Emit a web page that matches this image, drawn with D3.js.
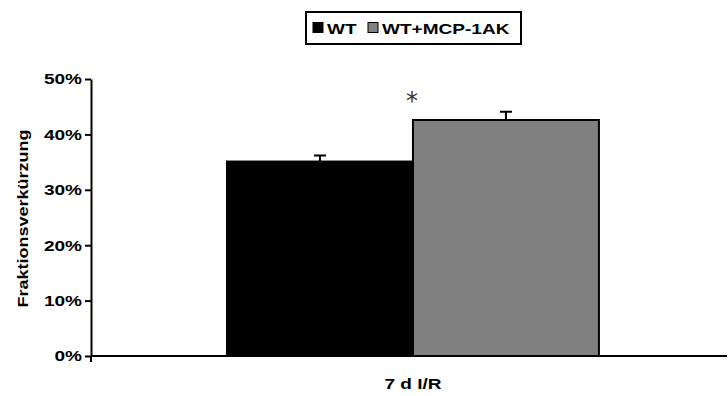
<!DOCTYPE html>
<html>
<head>
<meta charset="utf-8">
<script src="https://cdn.jsdelivr.net/npm/d3@7/dist/d3.min.js"></script>
<style>
  body { margin: 0; background: #fff; }
  text { font-family: "Liberation Sans", Arial, sans-serif; font-weight: bold; }
</style>
</head>
<body>
<div class="chart"></div>
<script>
const groups = ['7 d I/R'];
const seriesNames = ['WT', 'WT+MCP-1AK'];
const seriesColors = ['#000000', '#808080'];
const values = [35.1, 42.6];
const errors = [1.1, 1.5];
const yTicks = [0, 10, 20, 30, 40, 50];

// the original lettering is wide, so text is stretched horizontally
const stretch = 1.27;
const fontSize = '15px';

const margin = { top: 79, right: 1, bottom: 40, left: 91 };
const W = 728, H = 396;
const width = W - margin.left - margin.right;
const height = H - margin.top - margin.bottom;

const svg = d3.select('.chart')
  .append('svg')
    .attr('width', W)
    .attr('height', H);

const plot = svg.append('g')
  .attr('transform', `translate(${margin.left}, ${margin.top})`);

const x0 = d3.scaleBand()
  .domain(groups)
  .range([0, width])
  .paddingInner(0)
  .paddingOuter(0.355)
  .align(0.515);

const x1 = d3.scaleBand()
  .domain(seriesNames)
  .range([0, x0.bandwidth()])
  .padding(0);

const y = d3.scaleLinear()
  .domain([0, 50])
  .range([height, 0]);

const data = seriesNames.map((name, i) => ({ name, value: values[i], err: errors[i], color: seriesColors[i] }));

const g = plot.selectAll('.group')
  .data(groups)
  .enter()
  .append('g')
    .attr('transform', (d) => `translate(${x0(d)}, 0)`);

g.selectAll('rect')
  .data(data)
  .enter()
  .append('rect')
    .attr('x', (d) => x1(d.name))
    .attr('y', (d) => y(d.value))
    .attr('width', x1.bandwidth())
    .attr('height', (d) => height - y(d.value))
    .attr('fill', (d) => d.color)
    .attr('stroke', '#000')
    .attr('stroke-width', 2);

// error bars (upper only)
g.selectAll('.err')
  .data(data)
  .enter()
  .append('path')
    .attr('class', 'err')
    .attr('fill', 'none')
    .attr('stroke', '#000')
    .attr('stroke-width', 2)
    .attr('d', (d) => {
      const cx = x1(d.name) + x1.bandwidth() / 2;
      return `M${cx},${y(d.value)}V${y(d.value + d.err)}M${cx - 6},${y(d.value + d.err)}H${cx + 6}`;
    });

// significance star
g.append('text')
  .attr('x', x1(seriesNames[1]) - 1)
  .attr('y', y(values[1] + errors[1]) - 3)
  .attr('text-anchor', 'middle')
  .attr('fill', '#333')
  .style('font-family', '"DejaVu Sans", sans-serif')
  .style('font-weight', 'normal')
  .style('font-size', '24px')
  .text('*');

// y axis
const yAxis = plot.append('g')
  .call(d3.axisLeft(y).tickValues(yTicks).tickFormat((d) => d + '%').tickSize(6).tickSizeOuter(0));
yAxis.select('.domain').attr('stroke-width', 2);
yAxis.selectAll('.tick line').attr('stroke-width', 2);
yAxis.selectAll('.tick text')
  .attr('x', -9 / stretch)
  .attr('transform', `scale(${stretch},1)`)
  .attr('fill', '#000')
  .style('font-size', fontSize)
  .style('font-family', '"Liberation Sans", Arial, sans-serif');

// x axis
plot.append('line')
  .attr('x1', 0).attr('x2', width)
  .attr('y1', height).attr('y2', height)
  .attr('stroke', '#000').attr('stroke-width', 2);
plot.append('line')
  .attr('x1', 0).attr('x2', 0)
  .attr('y1', height).attr('y2', height + 6)
  .attr('stroke', '#000').attr('stroke-width', 2);

plot.selectAll('.xlabel')
  .data(groups)
  .enter()
  .append('text')
    .attr('transform', (d) => `translate(${x0(d) + x0.bandwidth() / 2}, ${height + 33}) scale(${stretch},1)`)
    .attr('text-anchor', 'middle')
    .style('font-size', fontSize)
    .text((d) => d);

// y label
svg.append('text')
  .attr('transform', `translate(28, ${margin.top + height / 2 + 1}) rotate(-90) scale(1.2,1)`)
  .attr('text-anchor', 'middle')
  .style('font-size', fontSize)
  .text('Fraktionsverkürzung');

// legend
const legend = svg.append('g').attr('transform', 'translate(306, 12)');
legend.append('rect')
  .attr('x', 0).attr('y', 0)
  .attr('width', 215).attr('height', 32)
  .attr('fill', '#fff').attr('stroke', '#000').attr('stroke-width', 2);

const legendX = [7, 62];
const items = legend.selectAll('.item')
  .data(seriesNames)
  .enter()
  .append('g')
    .attr('transform', (d, i) => `translate(${legendX[i]}, 0)`);
items.append('rect')
  .attr('x', 0).attr('y', 10.5)
  .attr('width', 10).attr('height', 10)
  .attr('fill', (d, i) => seriesColors[i])
  .attr('stroke', '#000').attr('stroke-width', 1);
items.append('text')
  .attr('transform', `translate(14, 21.5) scale(${stretch},1)`)
  .style('font-size', fontSize)
  .text((d) => d);
</script>
</body>
</html>
